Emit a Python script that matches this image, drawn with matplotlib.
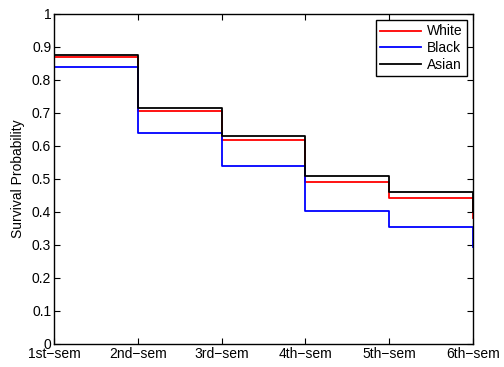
import numpy as np
import matplotlib
matplotlib.use('Agg')
import matplotlib.pyplot as plt

plt.rcParams['font.family'] = ['Liberation Sans', 'DejaVu Sans']

# semester positions and survival values
sem_pos = [1, 2, 3, 4, 5, 6]
sem_labels = ['1st\u2212sem', '2nd\u2212sem', '3rd\u2212sem', '4th\u2212sem', '5th\u2212sem', '6th\u2212sem']
white = [0.871, 0.706, 0.617, 0.490, 0.443, 0.383]
black = [0.838, 0.640, 0.540, 0.403, 0.355, 0.295]
asian = [0.876, 0.716, 0.630, 0.508, 0.462, 0.400]
y_ticks = [0, 0.1, 0.2, 0.3, 0.4, 0.5, 0.6, 0.7, 0.8, 0.9, 1]

fig = plt.figure(figsize=(5.04, 3.67), dpi=100)
ax = fig.add_axes([0.107, 0.0627, 0.8315, 0.8992])

ax.step(sem_pos, white, where='post', color='red', lw=1.3, label='White')
ax.step(sem_pos, black, where='post', color='blue', lw=1.3, label='Black')
ax.step(sem_pos, asian, where='post', color='black', lw=1.3, label='Asian')

ax.set_xlim(1, 6)
ax.set_ylim(0, 1)
ax.set_xticks(sem_pos)
ax.set_xticklabels(sem_labels)
ax.set_yticks(y_ticks)
ax.set_yticklabels(['%g' % v for v in y_ticks])
ax.tick_params(direction='in', top=True, right=True, length=4, width=0.8,
               labelsize=10, pad=2)
for s in ax.spines.values():
    s.set_linewidth(1.0)

ax.set_ylabel('Survival Probability', fontsize=10, labelpad=5)

leg = ax.legend(loc='upper right', fontsize=10, fancybox=False, framealpha=1,
                edgecolor='black', borderpad=0.3, labelspacing=0.2,
                handlelength=3.0, handletextpad=0.4, borderaxespad=0.45)
leg.get_frame().set_linewidth(1.0)

fig.savefig('out.png', dpi=100)
